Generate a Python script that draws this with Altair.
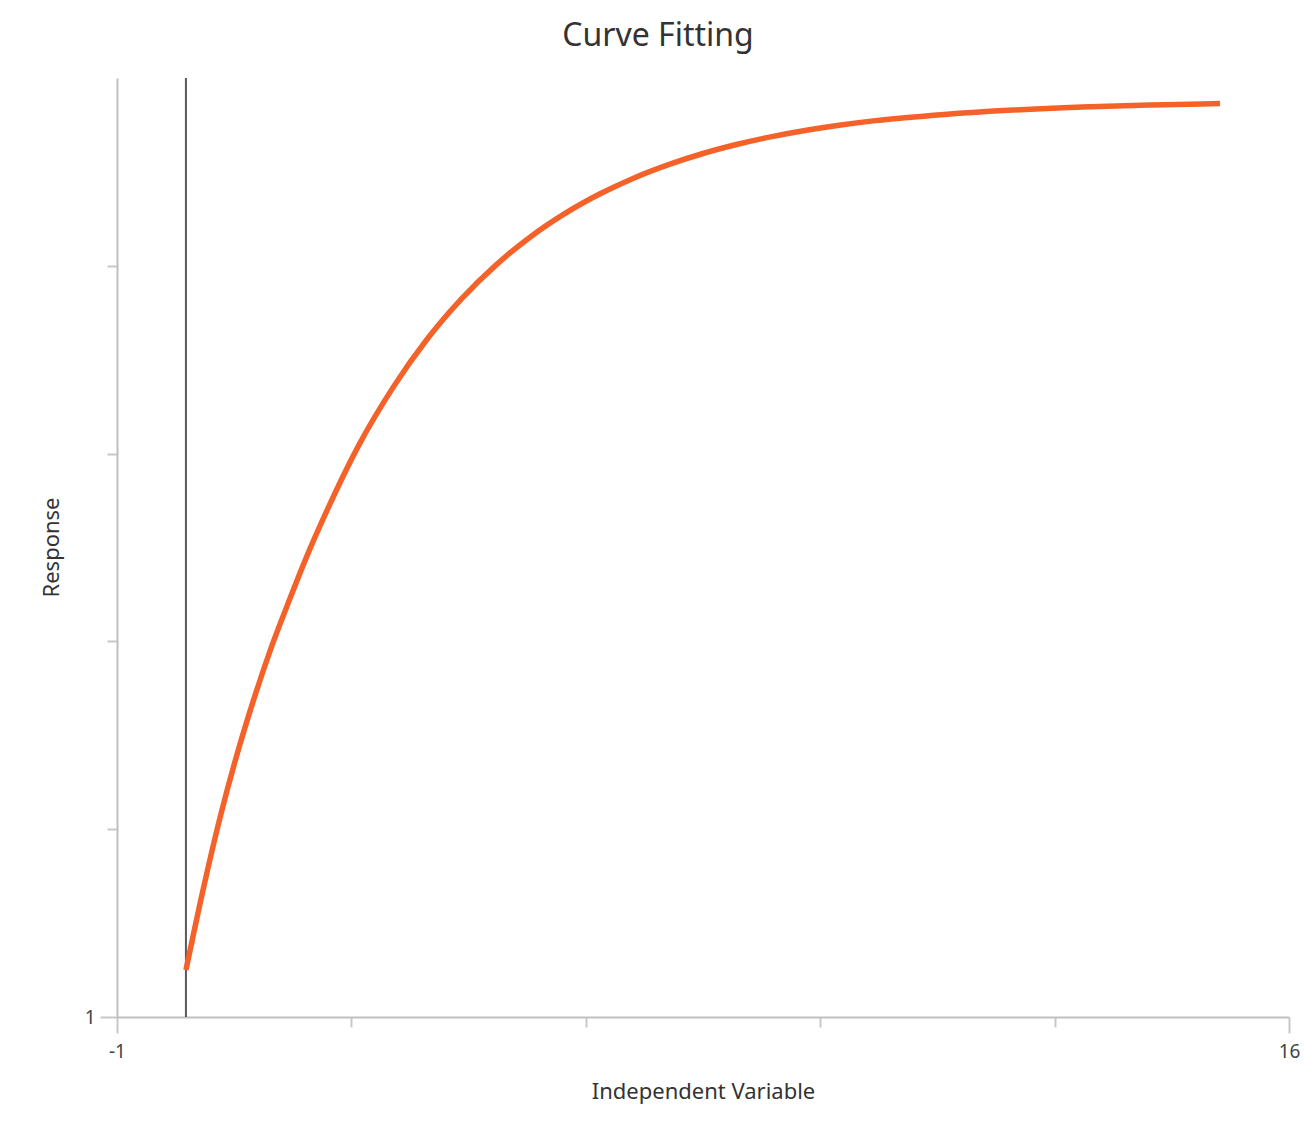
import altair as alt
import pandas as pd

# Values
x_values = [0, 0.25, 0.5, 0.75, 1, 1.25, 1.5, 1.75, 2, 2.5, 3, 3.5, 4, 4.5, 5, 5.5, 6, 6.5, 7, 7.5,
            8, 8.5, 9, 9.5, 10, 11, 12, 13, 14, 15]
y_values = [1.25, 1.68, 2.07, 2.41, 2.71, 2.98, 3.22, 3.45, 3.66, 4.04, 4.35, 4.61, 4.825, 5.005,
            5.155, 5.279, 5.382, 5.468, 5.539, 5.598, 5.647, 5.688, 5.722, 5.750, 5.773, 5.806,
            5.829, 5.845, 5.856, 5.864]
x_ticks = [-1, 2.4, 5.8, 9.2, 12.6, 16]
y_ticks = [1, 2, 3, 4, 5]
marker_x = [0]

FONT = "Noto Sans"

curve = pd.DataFrame({"x": x_values, "y": y_values})
marker = pd.DataFrame({"x": marker_x})

x_scale = alt.Scale(domain=[-1, 16], nice=False, zero=False)
y_scale = alt.Scale(domain=[1, 6], nice=False, zero=False)

x_axis = alt.Axis(
    values=x_ticks,
    labelExpr="datum.value == -1 ? '-1' : (datum.value == 16 ? '16' : '')",
    tickSize={"condition": {"test": "datum.value == -1 || datum.value == 16", "value": 16}, "value": 10},
    tickColor="#c8c8c8",
    domainColor="#c0c0c0",
    domainWidth=2,
    tickWidth=2,
    grid=False,
    labelFlush=False,
    labelFont=FONT,
    labelFontSize=19,
    labelColor="#444444",
    labelPadding=9,
    title="Independent Variable",
    titleFont=FONT,
    titleFontSize=22,
    titleFontWeight="normal",
    titleColor="#333333",
    titleX=586,
    titleY=74,
    titleAlign="center",
    titleBaseline="middle",
)

y_axis = alt.Axis(
    values=y_ticks,
    labelExpr="datum.value == 1 ? '1' : ''",
    tickSize={"condition": {"test": "datum.value == 1", "value": 17}, "value": 10},
    tickColor="#c8c8c8",
    domainColor="#c0c0c0",
    domainWidth=2,
    tickWidth=2,
    grid=False,
    labelFont=FONT,
    labelFontSize=19,
    labelColor="#444444",
    labelPadding=5,
    title="Response",
    titleFont=FONT,
    titleFontSize=22,
    titleFontWeight="normal",
    titleColor="#333333",
    titleAngle=270,
    titleX=-66,
    titleY=469,
    titleAlign="center",
    titleBaseline="middle",
)

rule = alt.Chart(marker).mark_rule(color="#595959", strokeWidth=2).encode(
    x=alt.X("x:Q", scale=x_scale, axis=x_axis),
)

line = alt.Chart(curve).mark_line(color="#F4622A", strokeWidth=5.5, interpolate="monotone").encode(
    x=alt.X("x:Q", scale=x_scale, axis=x_axis),
    y=alt.Y("y:Q", scale=y_scale, axis=y_axis),
)

chart = (
    alt.layer(rule, line)
    .properties(
        width=1172,
        height=939,
        background="white",
        title=alt.TitleParams(
            text="Curve Fitting",
            font=FONT,
            fontSize=32,
            fontWeight="normal",
            color="#333333",
            anchor="middle",
            frame="group",
            dx=-45,
            dy=31,
            baseline="alphabetic",
            offset=30,
        ),
        padding={"left": 109, "top": 70, "right": 19, "bottom": 100},
        autosize=alt.AutoSizeParams(type="none"),
    )
    .configure_view(strokeWidth=0, stroke="transparent")
)

chart.save("out.html", embed_options={"renderer": "svg", "actions": False})
